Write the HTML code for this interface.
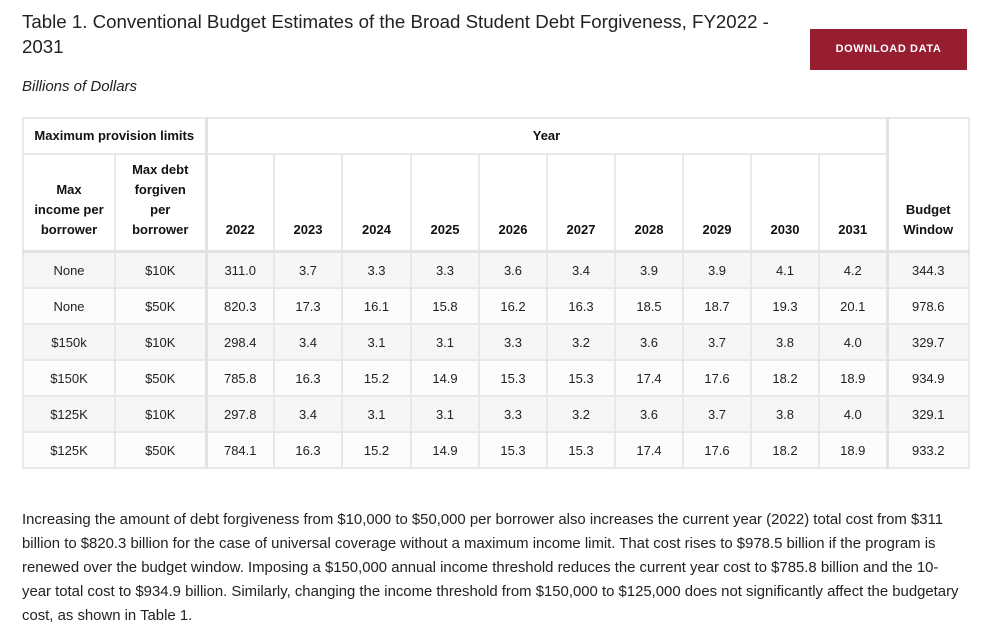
<!DOCTYPE html>
<html><head><style>
body{margin:0;width:1000px;height:630px;background:#fff;font-family:"Liberation Sans",sans-serif;color:#222;position:relative;overflow:hidden}
.t{position:absolute;left:22px;top:9px;font-size:18.7px;line-height:25px;width:760px;color:#222}
.sub{position:absolute;left:22px;top:78px;font-size:15px;font-style:italic}
.btn{position:absolute;left:810px;top:29px;width:157px;height:41px;background:#971d31;color:#fff;font-size:11px;font-weight:bold;letter-spacing:.6px;text-align:center;line-height:41px}
table{position:absolute;left:22px;top:117px;border-collapse:collapse;table-layout:fixed;font-size:13px}
td,th{border:2px solid #e8e8e8;text-align:center;padding:0}
th{font-weight:bold;color:#111;vertical-align:bottom;padding-bottom:10px;line-height:20px}
tr.b td{height:34px}
tr.b:nth-child(odd) td{background:#f6f6f6}
tr.b:nth-child(even) td{background:#fcfcfc}
.tl{border-left:3px solid #e2e2e2}.tr{border-right:3px solid #e2e2e2}
p{position:absolute;left:22px;top:508px;width:952px;margin:0;font-size:14.9px;line-height:24px;color:#222}
</style></head><body>
<div class="t">Table 1. Conventional Budget Estimates of the Broad Student Debt Forgiveness, FY2022 - 2031</div>
<div class="btn">DOWNLOAD DATA</div>
<div class="sub">Billions of Dollars</div>
<table>
<colgroup><col style="width:92px"><col style="width:91px"><col style="width:68px"><col style="width:68px"><col style="width:69px"><col style="width:68px"><col style="width:68px"><col style="width:68px"><col style="width:68px"><col style="width:68px"><col style="width:68px"><col style="width:68px"><col style="width:82px"></colgroup>
<tr><th colspan="2" class="tr" style="height:34px;vertical-align:middle;padding:0">Maximum provision limits</th><th colspan="10" class="tr" style="vertical-align:middle;padding:0">Year</th><th rowspan="2">Budget<br>Window</th></tr>
<tr><th style="height:85px">Max<br>income per<br>borrower</th><th class="tr">Max debt<br>forgiven<br>per<br>borrower</th><th>2022</th><th>2023</th><th>2024</th><th>2025</th><th>2026</th><th>2027</th><th>2028</th><th>2029</th><th>2030</th><th class="tr">2031</th></tr>
<tr class="b" style="border-top:3px solid #e2e2e2"><td>None</td><td class="tr">$10K</td><td>311.0</td><td>3.7</td><td>3.3</td><td>3.3</td><td>3.6</td><td>3.4</td><td>3.9</td><td>3.9</td><td>4.1</td><td class="tr">4.2</td><td>344.3</td></tr>
<tr class="b"><td>None</td><td class="tr">$50K</td><td>820.3</td><td>17.3</td><td>16.1</td><td>15.8</td><td>16.2</td><td>16.3</td><td>18.5</td><td>18.7</td><td>19.3</td><td class="tr">20.1</td><td>978.6</td></tr>
<tr class="b"><td>$150k</td><td class="tr">$10K</td><td>298.4</td><td>3.4</td><td>3.1</td><td>3.1</td><td>3.3</td><td>3.2</td><td>3.6</td><td>3.7</td><td>3.8</td><td class="tr">4.0</td><td>329.7</td></tr>
<tr class="b"><td>$150K</td><td class="tr">$50K</td><td>785.8</td><td>16.3</td><td>15.2</td><td>14.9</td><td>15.3</td><td>15.3</td><td>17.4</td><td>17.6</td><td>18.2</td><td class="tr">18.9</td><td>934.9</td></tr>
<tr class="b"><td>$125K</td><td class="tr">$10K</td><td>297.8</td><td>3.4</td><td>3.1</td><td>3.1</td><td>3.3</td><td>3.2</td><td>3.6</td><td>3.7</td><td>3.8</td><td class="tr">4.0</td><td>329.1</td></tr>
<tr class="b"><td>$125K</td><td class="tr">$50K</td><td>784.1</td><td>16.3</td><td>15.2</td><td>14.9</td><td>15.3</td><td>15.3</td><td>17.4</td><td>17.6</td><td>18.2</td><td class="tr">18.9</td><td>933.2</td></tr>
</table>
<p>Increasing the amount of debt forgiveness from $10,000 to $50,000 per borrower also increases the current year (2022) total cost from $311<br>billion to $820.3 billion for the case of universal coverage without a maximum income limit. That cost rises to $978.5 billion if the program is<br>renewed over the budget window. Imposing a $150,000 annual income threshold reduces the current year cost to $785.8 billion and the 10-<br>year total cost to $934.9 billion. Similarly, changing the income threshold from $150,000 to $125,000 does not significantly affect the budgetary<br>cost, as shown in Table 1.</p>
</body></html>
